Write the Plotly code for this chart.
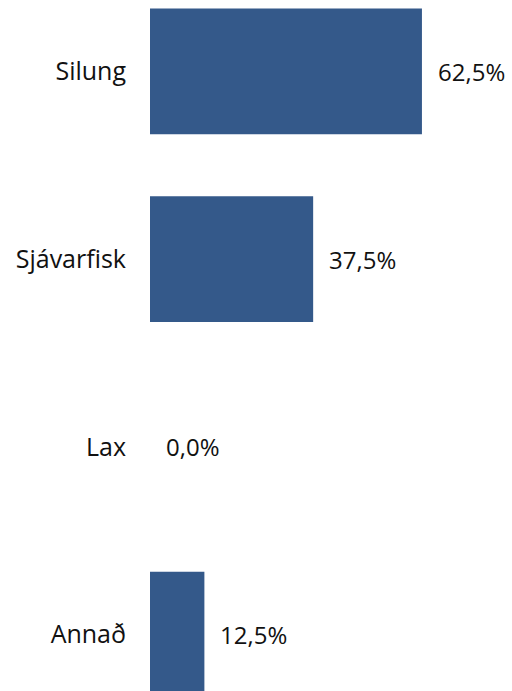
import plotly.graph_objects as go

# Share of responses by fish type
categories = ["Silung", "Sjávarfisk", "Lax", "Annað"]
shares = [0.625, 0.375, 0.0, 0.125]

bar_color = "#34598A"
font_family = "Open Sans"

fig = go.Figure(
    go.Bar(
        x=shares,
        y=categories,
        orientation="h",
        marker=dict(color=bar_color, line=dict(width=0)),
        hoverinfo="skip",
    )
)

# Percentage labels to the right of each bar, Icelandic decimal comma
for cat, val in zip(categories, shares):
    label = f"{val * 100:.1f}%".replace(".", ",")
    fig.add_annotation(
        x=val, y=cat, text=label, showarrow=False,
        xanchor="left", yanchor="middle", xshift=14,
        font=dict(family=font_family, size=24, color="#111111"),
    )

fig.update_layout(
    width=512, height=691,
    margin=dict(l=150, r=0, t=0, b=0),
    paper_bgcolor="white", plot_bgcolor="white",
    bargap=0.33,
    showlegend=False,
    font=dict(family=font_family, size=24, color="#111111"),
    xaxis=dict(range=[0, 0.832], visible=False, fixedrange=True),
    yaxis=dict(
        type="category",
        range=[3.300, -0.380],
        showgrid=False, zeroline=False, showline=False,
        ticks="outside", ticklen=18, tickcolor="rgba(0,0,0,0)",
        tickfont=dict(family=font_family, size=25, color="#111111"),
    ),
)

fig.write_html("out.html")
